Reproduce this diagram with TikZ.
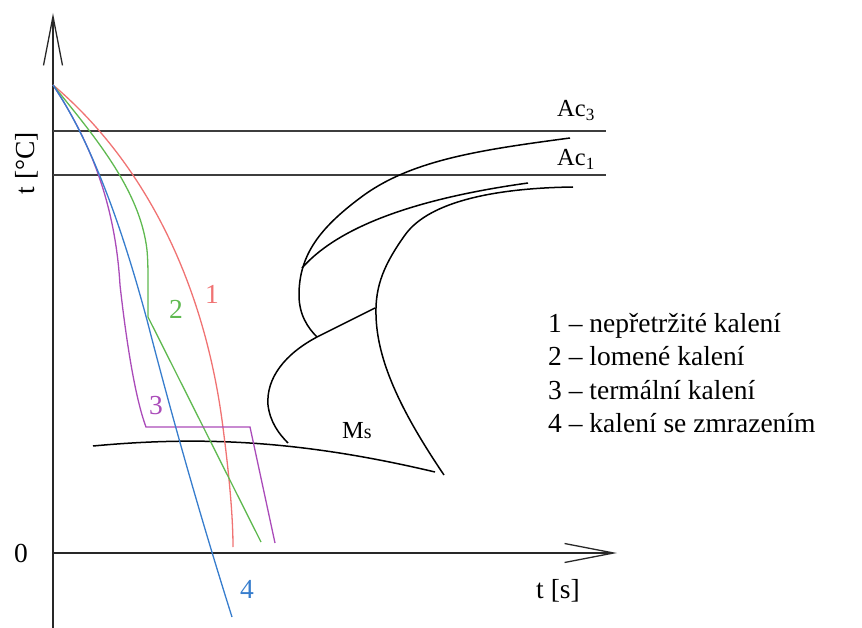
\documentclass[tikz,border=0pt]{standalone}
\usepackage{fontspec}
\setmainfont{Liberation Serif}
\usetikzlibrary{arrows.meta}
\definecolor{qred}   {RGB}{240,115,115}
\definecolor{qgreen} {RGB}{ 95,185, 80}
\definecolor{qpurple}{RGB}{170, 75,185}
\definecolor{qblue}  {RGB}{ 55,125,205}
\definecolor{axgray} {RGB}{ 40, 40, 40}
\tikzset{
  axis/.style={draw=axgray,line width=1.3pt,
               -{Straight Barb[length=49pt,width=19pt,line width=1.3pt]}},
  acline/.style={draw=axgray!90,line width=1.4pt},
  ttt/.style={draw=black,line width=1.5pt},
  quench/.style={line width=1.3pt},
  lbl/.style={font=\fontsize{27.5}{33}\selectfont,inner sep=0pt},
  smalllbl/.style={font=\fontsize{24.5}{29}\selectfont,inner sep=0pt},
  legendtext/.style={lbl,anchor=base west},
}
\begin{document}
\begin{tikzpicture}[x=1pt,y=-1pt]
  \useasboundingbox (0,0) rectangle (862,628);
  % axes
  \coordinate (O) at (53,553);
  \coordinate (start) at (53,85);
  \draw[axis] (53,628) -- (53,13);
  \draw[axis] (O) -- (617,553);
  \node[lbl,rotate=90] (tlab) at (27,163) {t [°C]};
  \node[lbl] (zero) at (21,553) {0};
  \node[lbl] (slab) at (558,591) {t [s]};
  % Ac lines
  \draw[acline] (53,131) -- (606,131);
  \draw[acline] (53,175) -- (606,175);
  \node[smalllbl,anchor=base west] (ac3) at (557,117) {Ac\textsubscript{3}};
  \node[smalllbl,anchor=base west] (ac1) at (557,166) {Ac\textsubscript{1}};
  % transformation curves
  \draw[ttt] (570,138) .. controls (480,150) and (410,160) .. (360,198)
    .. controls (320,228) and (299,255) .. (299,295)
    .. controls (299,315) and (308,328) .. (317,337);
  \draw[ttt] (528,183) .. controls (420,198) and (340,225) .. (302,268);
  \draw[ttt] (573,187) .. controls (500,188) and (430,200) .. (405,235)
    .. controls (385,263) and (375,285) .. (376,315)
    .. controls (377,360) and (400,410) .. (444,475);
  \draw[ttt] (375,308) -- (317,337)
    .. controls (285,354) and (266,378) .. (268,405)
    .. controls (270,422) and (279,434) .. (288,443);
  \draw[ttt] (93,446) .. controls (200,436) and (300,440) .. (435,472);
  \node[smalllbl,anchor=base west] (ms) at (342,438) {M\fontsize{20}{24}\selectfont s};
  % cooling curves
  \draw[quench,qred] (start) .. controls (130,150) and (200,260) .. (222,420)
    .. controls (230,480) and (233,520) .. (233,547);
  \draw[quench,qgreen] (start) .. controls (95,137) and (140,190) .. (147,250)
    .. controls (148,262) and (148,270) .. (148,285) -- (148,317) -- (261,542);
  \draw[quench,qpurple] (start) .. controls (88,138) and (115,200) .. (120,285)
    .. controls (125,330) and (134,395) .. (146,427) -- (250,427) -- (275,543);
  \draw[quench,qblue] (start) .. controls (90,140) and (120,220) .. (147,320)
    .. controls (165,390) and (195,500) .. (232,617);
  \node[lbl,qred]    (n1) at (212,294) {1};
  \node[lbl,qgreen]  (n2) at (176,309) {2};
  \node[lbl,qpurple] (n3) at (156,406) {3};
  \node[lbl,qblue]   (n4) at (247,589) {4};
  % legend
  \foreach \i/\txt in {1/nepřetržité kalení,2/lomené kalení,
                       3/termální kalení,4/kalení se zmrazením}
    \node[legendtext] (leg\i) at (548,{298.5+33.5*\i}) {\i~--~\txt};
\end{tikzpicture}
\end{document}
